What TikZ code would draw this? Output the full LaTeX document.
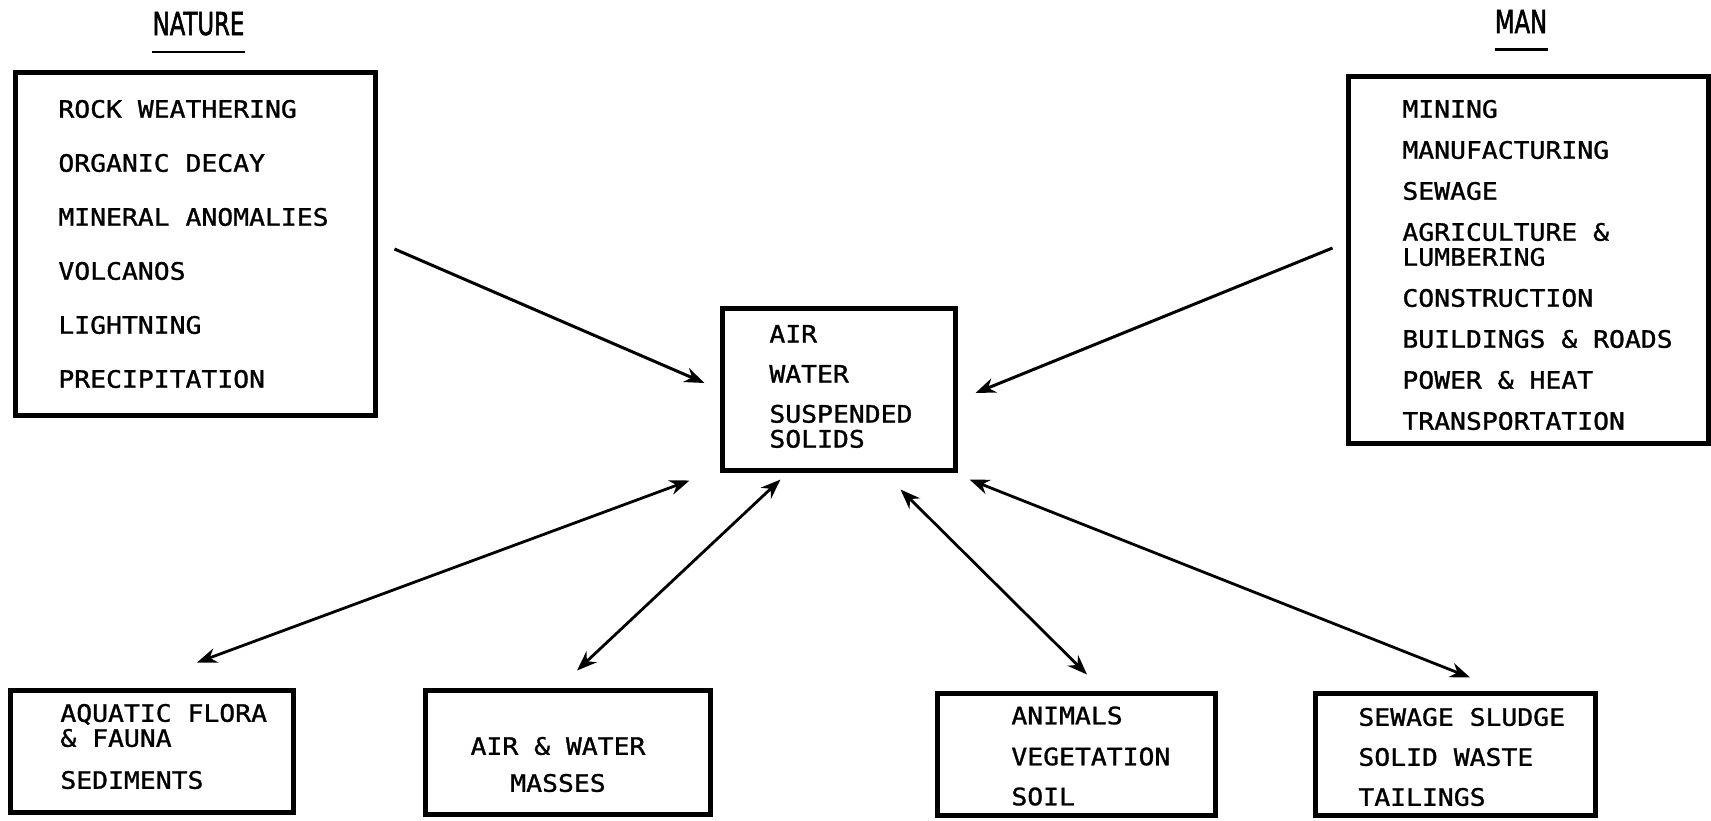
\documentclass[tikz,border=0pt]{standalone}
\usepackage{fontspec}
\newfontfamily\typefont[FakeStretch=1.1,FakeBold=1.2]{DejaVu Sans Mono}
\newfontfamily\titlefont[FakeStretch=0.72,FakeBold=1.6]{DejaVu Sans}
\usetikzlibrary{arrows.meta}
\tikzset{
  panel/.style={draw,line width=2.5pt,inner sep=0pt},
  items/.style={inner sep=0pt,align=left,font=\typefont\fontsize{12}{12.5}\selectfont},
  heading/.style={anchor=base,inner xsep=0pt,inner ysep=8pt,font=\titlefont\fontsize{15.8}{16}\selectfont},
  link/.style={line width=1.5pt,-{Stealth[length=10pt,width=7.5pt]}},
  twoway/.style={line width=1.4pt,{Stealth[length=10pt,width=7.5pt]}-{Stealth[length=10pt,width=7.5pt]}}
}
\begin{document}
\begin{tikzpicture}[x=0.5pt,y=-0.5pt]
  \useasboundingbox[fill=white] (0,0) rectangle (1711,820);
  % --- titles ---
  \node[heading] (tnature) at (198.5,35) {NATURE};
  \node[heading] (tman) at (1521,33) {MAN};
  \draw[line width=1.2pt] (tnature.south west) -- (tnature.south east);
  \draw[line width=1.2pt] (tman.south west) -- (tman.south east);

  % --- sources ---
  \node[panel,minimum width=180pt,minimum height=171.5pt] (nature) at (195,243.5) {};
  \node[items,anchor=west] (naturetext) at (58,244)
    {ROCK WEATHERING\\[14.5pt] ORGANIC DECAY\\[14.5pt] MINERAL ANOMALIES\\[14.5pt]
     VOLCANOS\\[14.5pt] LIGHTNING\\[14.5pt] PRECIPITATION};
  \node[panel,minimum width=180pt,minimum height=183.5pt] (man) at (1528,259.5) {};
  \node[items,anchor=west] (mantext) at (1402,265)
    {MINING\\[8pt] MANUFACTURING\\[8pt] SEWAGE\\[8pt] AGRICULTURE \&\\ LUMBERING\\[8pt]
     CONSTRUCTION\\[8pt] BUILDINGS \& ROADS\\[8pt] POWER \& HEAT\\[8pt] TRANSPORTATION};

  % --- media ---
  \node[panel,minimum width=116.5pt,minimum height=81pt] (media) at (838.5,389) {};
  \node[items,anchor=west] (mediatext) at (769,386.5)
    {AIR\\[7.5pt] WATER\\[7.5pt] SUSPENDED\\ SOLIDS};

  % --- sinks ---
  \node[panel,minimum width=141.5pt,minimum height=61pt] (flora) at (151.5,751) {};
  \node[items,anchor=west] (floratext) at (60,746.5)
    {AQUATIC FLORA\\ \& FAUNA\\[8.5pt] SEDIMENTS};
  \node[panel,minimum width=142.5pt,minimum height=62pt] (masses) at (567.5,752) {};
  \node[items,align=center] (massestext) at (558,764.5)
    {AIR \& WATER\\[6pt] MASSES};
  \node[panel,minimum width=139pt,minimum height=61pt] (biota) at (1076,754) {};
  \node[items,anchor=west] (biotatext) at (1011,756)
    {ANIMALS\\[8pt] VEGETATION\\[7.5pt] SOIL};
  \node[panel,minimum width=140pt,minimum height=61pt] (waste) at (1455,754) {};
  \node[items,anchor=west] (wastetext) at (1358,757)
    {SEWAGE SLUDGE\\[7.5pt] SOLID WASTE\\[7.5pt] TAILINGS};

  % --- inputs ---
  \draw[link] ([shift={(17,5.5)}]nature.east) -- ([shift={(-15,-6)}]media.west);
  \draw[link] ([shift={(-13,-11.5)}]man.west) -- ([shift={(18,4)}]media.east);
  % --- exchanges ---
  \draw[twoway] ([shift={(-30,8)}]media.south west) -- ([shift={(45.5,-25)}]flora.north);
  \draw[twoway] ([shift={(61,7)}]media.south west) -- ([shift={(9.5,-17)}]masses.north);
  \draw[twoway] ([shift={(-57,17)}]media.south east) -- ([shift={(11,-16)}]biota.north);
  \draw[twoway] ([shift={(12,7)}]media.south east) -- ([shift={(15,-13)}]waste.north);
\end{tikzpicture}
\end{document}
